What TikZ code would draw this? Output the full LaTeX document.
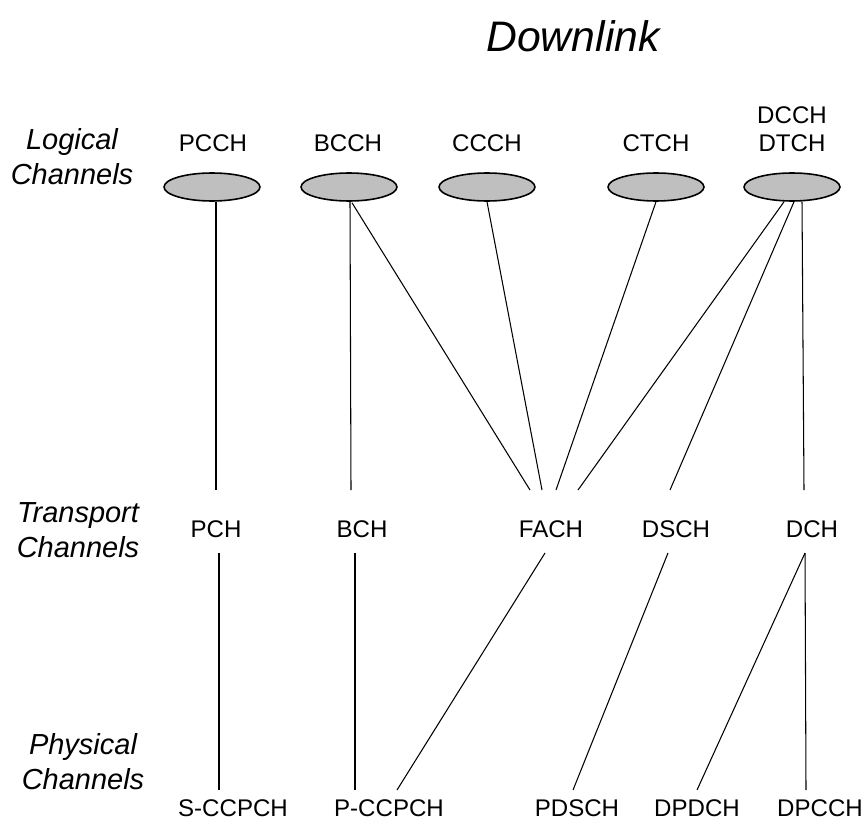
\documentclass[tikz,border=0pt]{standalone}
\usepackage{fontspec}
\setmainfont{Liberation Sans}
\usepackage{tikz}
\usetikzlibrary{shapes.geometric,calc}

\begin{document}
\begin{tikzpicture}[x=0.02cm,y=-0.02cm,line width=0.6pt,
  chan/.style={ellipse,draw,line width=0.9pt,fill=gray!50,minimum width=1.92cm,minimum height=0.56cm,inner sep=0pt},
  chlbl/.style={anchor=base,inner sep=0pt,outer sep=0pt,font=\fontsize{13.7}{16}\selectfont},
  trbox/.style={chlbl,text height=0.94cm,text depth=0.32cm},
  phybox/.style={chlbl,text height=0.52cm,text depth=0cm},
  rowlbl/.style={align=center,inner sep=0pt,font=\fontsize{16.5}{19.9}\selectfont\itshape}]
\useasboundingbox (0,0) rectangle (868,824);
\node[anchor=base,inner sep=0pt,font=\fontsize{24.3}{29}\selectfont\itshape] (title) at (573,52) {Downlink};
\node[rowlbl] (loglbl) at (72,157) {Logical\\Channels};
\node[rowlbl] (trlbl) at (78,530) {Transport\\Channels};
\node[rowlbl] (phylbl) at (83,762) {Physical\\Channels};
\node[chlbl] (pcchlbl) at (213,152) {PCCH};
\node[chlbl] (bcchlbl) at (348,152) {BCCH};
\node[chlbl] (ccchlbl) at (487,152) {CCCH};
\node[chlbl] (ctchlbl) at (656,152) {CTCH};
\node[chlbl] (dcchlbl) at (792,124) {DCCH};
\node[chlbl] (dtchlbl) at (792,152) {DTCH};
\node[chan] (pcch) at (212,187) {};
\node[chan] (bcch) at (349,187) {};
\node[chan] (ccch) at (487,187) {};
\node[chan] (ctch) at (656,187) {};
\node[chan] (dcch) at (792,187) {};
\node[trbox] (pch) at (216,537) {PCH};
\node[trbox] (bch) at (362,537) {BCH};
\node[trbox] (fach) at (551,537) {FACH};
\node[trbox] (dsch) at (676,537) {DSCH};
\node[trbox] (dch) at (812,537) {DCH};
\node[phybox] (sccpch) at (233,816) {S-CCPCH};
\node[phybox] (pccpch) at (389,816) {P-CCPCH};
\node[phybox] (pdsch) at (577,816) {PDSCH};
\node[phybox] (dpdch) at (697,816) {DPDCH};
\node[phybox] (dpcch) at (820,816) {DPCCH};
\draw ($(pcch.south)+(4,0)$) -- (pch.north);
\draw ($(bcch.south)+(1,0)$) -- ($(bch.north)+(-11,0)$);
\draw ($(bcch.south)+(3,1)$) -- ($(fach.north)+(-21,0)$);
\draw (ccch.south) -- ($(fach.north)+(-9,0)$);
\draw (ctch.south) -- ($(fach.north)+(5,0)$);
\draw ($(dcch.south)+(-8,0)$) -- ($(fach.north)+(27,0)$);
\draw ($(dcch.south)+(2,0)$) -- ($(dsch.north)+(-6,0)$);
\draw ($(dcch.south)+(10,0)$) -- ($(dch.north)+(-8,0)$);
\draw ($(pch.south)+(3,0)$) -- ($(sccpch.north)+(-14,0)$);
\draw ($(bch.south)+(-7,0)$) -- ($(pccpch.north)+(-34,0)$);
\draw ($(fach.south)+(-6,0)$) -- ($(pccpch.north)+(8,0)$);
\draw ($(dsch.south)+(-8,0)$) -- ($(pdsch.north)+(-4,0)$);
\draw ($(dch.south)+(-7,0)$) -- (dpdch.north);
\draw ($(dch.south)+(-7,0)$) -- ($(dpcch.north)+(-14,0)$);
\end{tikzpicture}
\end{document}
